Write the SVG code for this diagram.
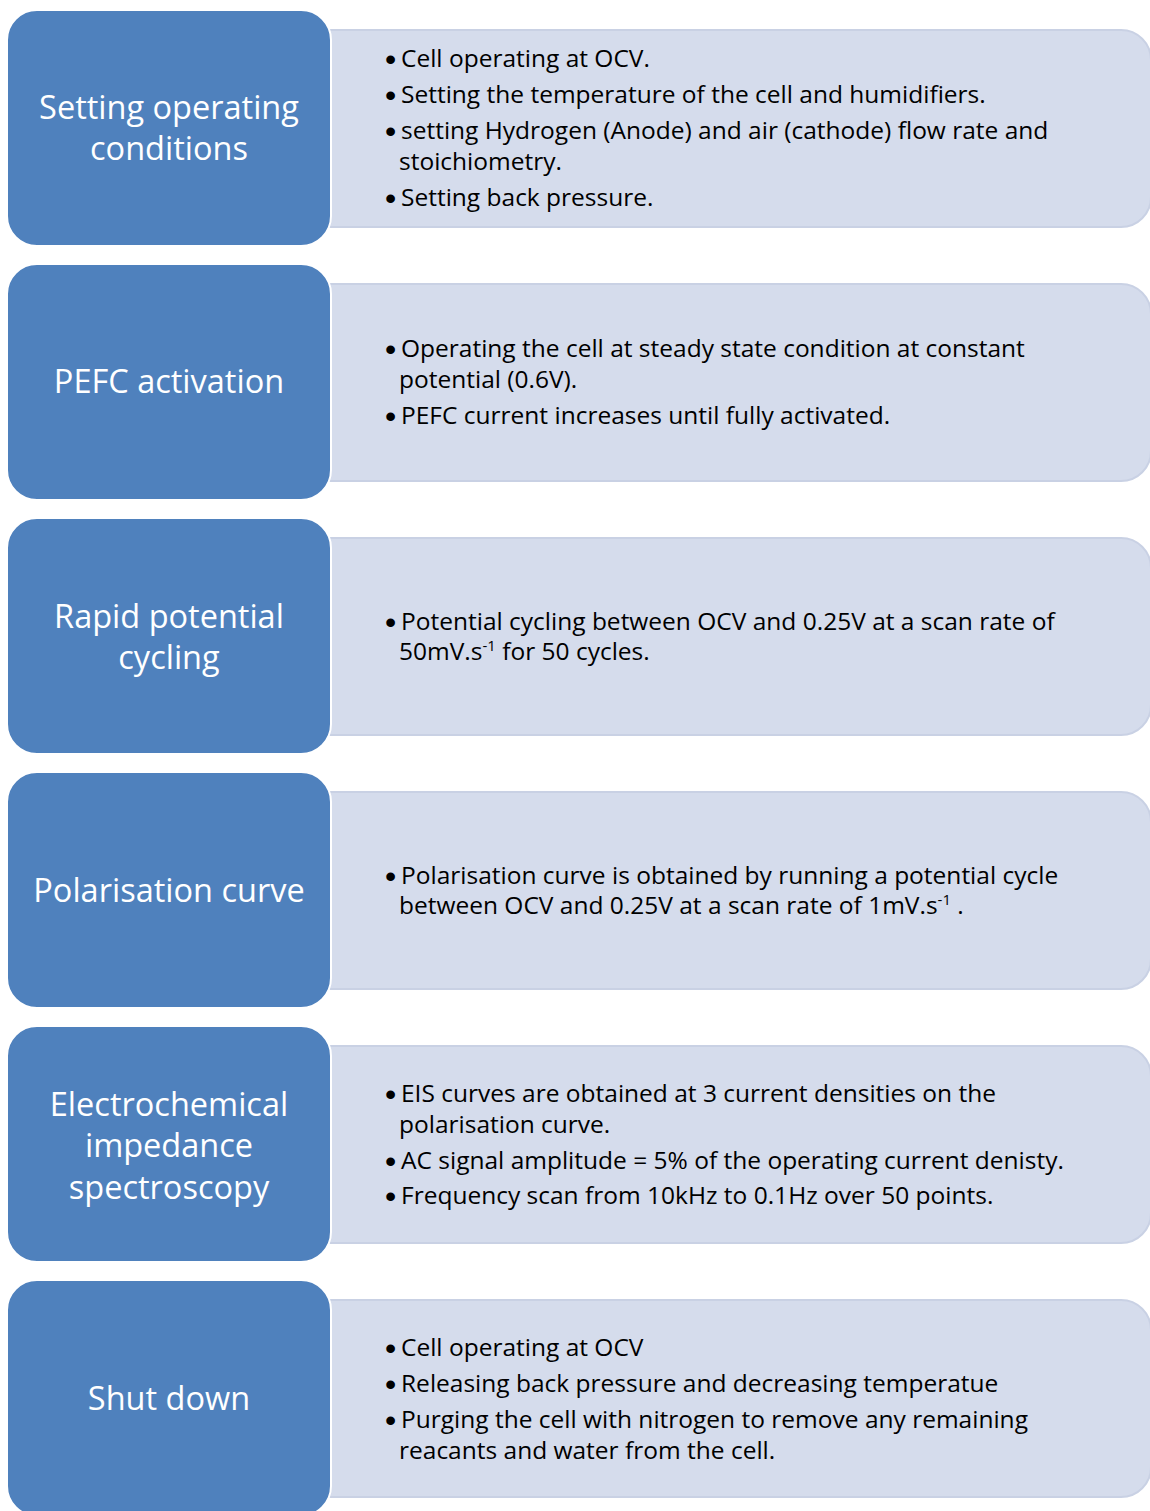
<svg xmlns="http://www.w3.org/2000/svg" width="1150" height="1511" viewBox="0 0 1150 1511">
<style>
.panel{fill:#d5dcec;stroke:#c9d1e4;stroke-width:2}
.box{fill:#4f81bd;stroke:#ffffff;stroke-width:2}
.title{font-family:"Open Sans","Noto Sans",sans-serif;font-size:32.5px;fill:#ffffff;text-anchor:middle}
.body{font-family:"Open Sans","Noto Sans",sans-serif;font-size:24.5px;fill:#000000}
.b{font-family:"Liberation Sans",Arial,sans-serif;font-size:32px;fill:#000000}
.sup{font-size:15px}
</style>
<rect width="1150" height="1511" fill="#ffffff"/>
<g id="connectors"></g>
<g id="node1">
<rect class="panel" x="300" y="30" width="851" height="197" rx="30"/>
<rect class="box" x="7" y="10" width="324" height="236" rx="30"/>
<text class="title"><tspan x="169" y="119">Setting operating</tspan><tspan x="169" y="160">conditions</tspan></text>
<text class="b"><tspan x="385" y="70">•</tspan><tspan x="385" y="106">•</tspan><tspan x="385" y="142">•</tspan><tspan x="385" y="209">•</tspan></text>
<text class="body"><tspan x="401" y="67">Cell operating at OCV.</tspan><tspan x="401" y="103">Setting the temperature of the cell and humidifiers.</tspan><tspan x="401" y="139">setting Hydrogen (Anode) and air (cathode) flow rate and</tspan><tspan x="399" y="170">stoichiometry.</tspan><tspan x="401" y="206">Setting back pressure.</tspan></text>
</g>
<g id="node2">
<rect class="panel" x="300" y="284" width="851" height="197" rx="30"/>
<rect class="box" x="7" y="264" width="324" height="236" rx="30"/>
<text class="title"><tspan x="169" y="393">PEFC activation</tspan></text>
<text class="b"><tspan x="385" y="360">•</tspan><tspan x="385" y="427">•</tspan></text>
<text class="body"><tspan x="401" y="357">Operating the cell at steady state condition at constant</tspan><tspan x="399" y="388">potential (0.6V).</tspan><tspan x="401" y="424">PEFC current increases until fully activated.</tspan></text>
</g>
<g id="node3">
<rect class="panel" x="300" y="538" width="851" height="197" rx="30"/>
<rect class="box" x="7" y="518" width="324" height="236" rx="30"/>
<text class="title"><tspan x="169" y="628">Rapid potential</tspan><tspan x="169" y="669">cycling</tspan></text>
<text class="b"><tspan x="385" y="633">•</tspan></text>
<text class="body"><tspan x="401" y="630">Potential cycling between OCV and 0.25V at a scan rate of</tspan><tspan x="399" y="660">50mV.s</tspan><tspan class="sup" dy="-9">-1</tspan><tspan dy="9"> for 50 cycles.</tspan></text>
</g>
<g id="node4">
<rect class="panel" x="300" y="792" width="851" height="197" rx="30"/>
<rect class="box" x="7" y="772" width="324" height="236" rx="30"/>
<text class="title"><tspan x="169" y="902">Polarisation curve</tspan></text>
<text class="b"><tspan x="385" y="887">•</tspan></text>
<text class="body"><tspan x="401" y="884">Polarisation curve is obtained by running a potential cycle</tspan><tspan x="399" y="914">between OCV and 0.25V at a scan rate of 1mV.s</tspan><tspan class="sup" dy="-9">-1</tspan><tspan dy="9"> .</tspan></text>
</g>
<g id="node5">
<rect class="panel" x="300" y="1046" width="851" height="197" rx="30"/>
<rect class="box" x="7" y="1026" width="324" height="236" rx="30"/>
<text class="title"><tspan x="169" y="1116">Electrochemical</tspan><tspan x="169" y="1157">impedance</tspan><tspan x="169" y="1199">spectroscopy</tspan></text>
<text class="b"><tspan x="385" y="1105">•</tspan><tspan x="385" y="1172">•</tspan><tspan x="385" y="1207">•</tspan></text>
<text class="body"><tspan x="401" y="1102">EIS curves are obtained at 3 current densities on the</tspan><tspan x="399" y="1133">polarisation curve.</tspan><tspan x="401" y="1169">AC signal amplitude = 5% of the operating current denisty.</tspan><tspan x="401" y="1204">Frequency scan from 10kHz to 0.1Hz over 50 points.</tspan></text>
</g>
<g id="node6">
<rect class="panel" x="300" y="1300" width="851" height="197" rx="30"/>
<rect class="box" x="7" y="1280" width="324" height="236" rx="30"/>
<text class="title"><tspan x="169" y="1410">Shut down</tspan></text>
<text class="b"><tspan x="385" y="1359">•</tspan><tspan x="385" y="1395">•</tspan><tspan x="385" y="1431">•</tspan></text>
<text class="body"><tspan x="401" y="1356">Cell operating at OCV</tspan><tspan x="401" y="1392">Releasing back pressure and decreasing temperatue</tspan><tspan x="401" y="1428">Purging the cell with nitrogen to remove any remaining</tspan><tspan x="399" y="1459">reacants and water from the cell.</tspan></text>
</g>
</svg>
